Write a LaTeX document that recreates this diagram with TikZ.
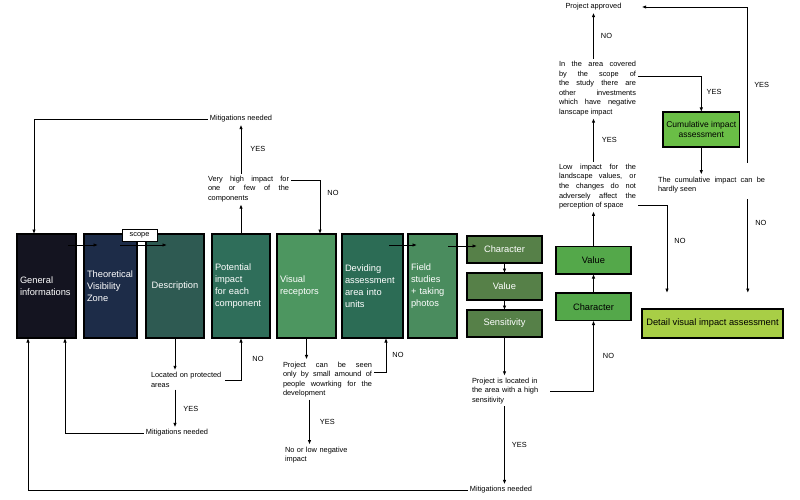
\documentclass[tikz,border=0pt]{standalone}
\usepackage{fontspec}
\setmainfont{Liberation Sans}
\usepackage{tikz}
\usetikzlibrary{arrows.meta, positioning, calc}
\definecolor{mynavy}{RGB}{20,20,32}
\definecolor{mydeepblue}{RGB}{29,44,72}
\definecolor{mypine}{RGB}{46,90,82}
\definecolor{myteal}{RGB}{47,110,90}
\definecolor{myleaf}{RGB}{77,150,96}
\definecolor{myforest}{RGB}{44,108,85}
\definecolor{myfern}{RGB}{74,140,94}
\definecolor{myolive}{RGB}{86,128,72}
\definecolor{mygreen}{RGB}{84,168,74}
\definecolor{mylime}{RGB}{106,190,70}
\definecolor{mypear}{RGB}{168,206,70}
\hyphenpenalty=10000
\exhyphenpenalty=10000
\tikzset{
  block/.style={rectangle, draw=black, line width=1.2pt, text=white,
    align=left, minimum height=104pt, inner xsep=3pt, outer sep=0pt,
    font=\fontsize{9.3}{12}\selectfont},
  smallblock/.style={rectangle, draw=black, line width=1.2pt, fill=myolive,
    text=white, minimum width=75pt, minimum height=27pt, outer sep=0pt,
    font=\fontsize{9.3}{11}\selectfont},
  greenblock/.style={rectangle, draw=black, line width=1.2pt, fill=mygreen,
    text=black, minimum width=75pt, minimum height=27.5pt, outer sep=0pt,
    font=\fontsize{9.3}{11}\selectfont},
  scopebox/.style={rectangle, draw=black, fill=white, line width=0.6pt,
    minimum width=35pt, minimum height=12pt, inner sep=1pt,
    font=\fontsize{7.4}{9}\selectfont},
  note/.style={font=\fontsize{7.4}{9.6}\selectfont, inner sep=2pt},
  answer/.style={font=\fontsize{7.4}{9}\selectfont, inner sep=1pt},
  arrow/.style={-{Latex[length=4.5pt,width=3.5pt]}, line width=0.9pt, color=black}
}
\begin{document}
\begin{tikzpicture}[x=1pt, y=-1pt]
  \useasboundingbox (0,0) rectangle (800,500);

  % Main chain of boxes
  \node[block, fill=mynavy, anchor=north west, text width=53pt] (gen) at (17,234) {General\\informations};
  \node[block, fill=mydeepblue, text width=47pt, right=8pt of gen] (tvz) {Theoretical\\Visibility\\Zone};
  \node[block, fill=mypine, text width=52pt, align=center, right=9pt of tvz] (desc) {Description};
  \node[block, fill=myteal, text width=52pt, right=8pt of desc] (pot) {Potential\\impact\\for each\\component};
  \node[block, fill=myleaf, text width=53pt, right=7pt of pot] (vis) {Visual\\receptors};
  \node[block, fill=myforest, text width=55pt, right=6pt of vis] (dev) {Deviding\\assessment\\area into\\units};
  \node[block, fill=myfern, text width=43pt, right=5pt of dev] (field) {Field\\studies\\+ taking\\photos};

  % Sensitivity column
  \node[smallblock, anchor=north west] (char) at (467,236) {Character};
  \node[smallblock, below=10pt of char] (val) {Value};
  \node[smallblock, below=10pt of val] (sens) {Sensitivity};

  % Right column
  \node[greenblock, anchor=north west] (rchar) at (556,293) {Character};
  \node[greenblock, above=19pt of rchar] (rval) {Value};
  \node[greenblock, fill=mylime, minimum width=74pt, minimum height=35pt, align=center,
    font=\fontsize{8.5}{10}\selectfont, anchor=north west] (cum) at (663,112) {Cumulative impact\\assessment};
  \node[greenblock, fill=mypear, minimum width=141pt, minimum height=29pt, anchor=north west] (detail) at (642,309) {Detail visual impact assessment};

  % Questions and results
  \node[note] (mitTop) at (241,119) {Mitigations needed};
  \node[note, text width=81pt, align=justify] (veryHigh) at (248.5,189) {Very high impact for\linebreak one or few of the\linebreak components};
  \node[note, text width=72pt, align=left] (located) at (187,380) {Located on protected\\areas};
  \node[note] (mitMid) at (177,433) {Mitigations needed};
  \node[note, text width=89pt, align=justify] (canSeen) at (327.5,379.5) {Project can be seen\linebreak only by small amound of\linebreak people wowrking for the\linebreak development};
  \node[note, text width=68pt, align=left] (noLow) at (319,455) {No or low negative\\impact};
  \node[note, text width=76pt, align=left] (highSens) at (510,391) {Project is located in\\the area with a high\\sensitivity};
  \node[note] (mitBot) at (501,490) {Mitigations needed};
  \node[note, text width=77pt, align=justify] (lowImp) at (597.5,186.5) {Low impact for the\linebreak landscape values, or\linebreak the changes do not\linebreak adversely affect the\linebreak perception of space};
  \node[note, text width=77pt, align=justify] (inArea) at (597.5,88.5) {In the area covered\linebreak by the scope of\linebreak the study there are\linebreak other investments\linebreak which have negative\linebreak lanscape impact};
  \node[note] (approved) at (593.5,7) {Project approved};
  \node[note, text width=107pt, align=justify] (cumSeen) at (711.5,185) {The cumulative impact can be\linebreak hardly seen};

  % Helper points
  \coordinate (detailTop) at ([yshift=16pt]detail.north);
  \coordinate (cumX) at ([xshift=92pt]cumSeen.south west);
  \coordinate (seenX) at ([xshift=-18pt]canSeen.south);

  % Arrows along the chain
  \draw[arrow] ([xshift=-8pt,yshift=-11pt]gen.north east) -- ([xshift=14pt,yshift=-11pt]tvz.north west);
  \draw[arrow] ([xshift=-17pt,yshift=-11pt]tvz.north east) -- ([xshift=21pt,yshift=-11pt]desc.north west);
  \node[scopebox] (scope) at (139.5,235) {scope};
  \draw[arrow] ([xshift=-14pt,yshift=-11pt]dev.north east) -- ([xshift=9pt,yshift=-11pt]field.north west);
  \draw[arrow] ([xshift=-9pt,yshift=-12pt]field.north east) -- ([xshift=10pt,yshift=-10pt]char.north west);
  \draw[arrow] (char) -- (val);
  \draw[arrow] (val) -- (sens);

  % Very high impact
  \draw[arrow] (pot.north) -- (pot.north |- veryHigh.south);
  \draw[arrow] (veryHigh.north -| pot.north) -- (mitTop.south -| pot.north) node[answer, midway, right=8pt] {YES};
  \draw[arrow] (mitTop.west) -| ([xshift=17pt]gen.north west);
  \draw[arrow] ([yshift=9pt]veryHigh.east) -| ([xshift=43pt]vis.north west) node[answer, pos=0.62, right=6pt] {NO};

  % Protected areas
  \draw[arrow] (desc.south) -- (desc.south |- located.north);
  \draw[arrow] (located.east) -| (pot.south) node[answer, pos=0.75, right=10pt] {NO};
  \draw[arrow] (located.south -| desc.south) -- (mitMid.north -| desc.south) node[answer, midway, right=7pt] {YES};
  \draw[arrow] (mitMid.west) -| ([xshift=48pt]gen.south west);

  % Visual receptors
  \draw[arrow] (vis.south) -- (vis.south |- canSeen.north);
  \draw[arrow] ([yshift=7pt]canSeen.east) -| ([xshift=44pt]dev.south west) node[answer, pos=0.75, right=5pt] {NO};
  \draw[arrow] (seenX) -- (seenX |- noLow.north) node[answer, midway, right=9pt] {YES};

  % Sensitivity
  \draw[arrow] (sens.south) -- (sens.south |- highSens.north);
  \draw[arrow] (highSens.east) -| (rchar.south) node[answer, pos=0.75, right=8pt] {NO};
  \draw[arrow] (highSens.south -| sens.south) -- (mitBot.north -| sens.south) node[answer, midway, right=6pt] {YES};
  \draw[arrow] (mitBot.west) -| ([xshift=11pt]gen.south west);

  % Right column
  \draw[arrow] (rchar) -- (rval);
  \draw[arrow] (rval.north) -- (rval.north |- lowImp.south);
  \draw[arrow] (lowImp.north -| rval.north) -- (inArea.south -| rval.north) node[answer, midway, right=7pt] {YES};
  \draw[arrow] (inArea.north -| rval.north) -- (approved.south -| rval.north) node[answer, midway, right=6pt] {NO};
  \draw[arrow] ([yshift=12pt]inArea.east) -| (cum.north) node[answer, pos=0.72, right=4pt] {YES};
  \draw[arrow] ([yshift=-19pt]lowImp.east) -| ([xshift=-45.5pt]detailTop) node[answer, pos=0.7, right=6pt] {NO};
  \draw[arrow] (cum.south) -- (cum.south |- cumSeen.north);
  \draw[arrow] ([yshift=12pt]cumX |- cumSeen.north) |- ([xshift=18pt]approved.east) node[answer, pos=0.25, right=5pt] {YES};
  \draw[arrow] ([yshift=-4pt]cumX) -- (cumX |- detailTop) node[answer, pos=0.25, right=6pt] {NO};
\end{tikzpicture}
\end{document}
